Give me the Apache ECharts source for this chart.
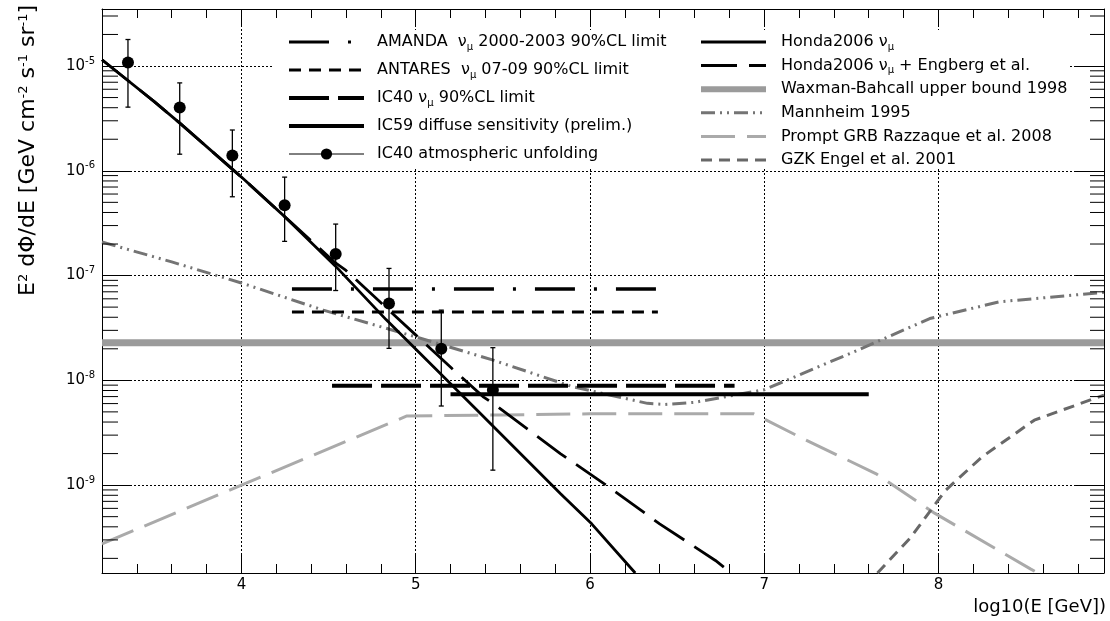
<!DOCTYPE html>
<html><head><meta charset="utf-8">
<script src="https://cdn.jsdelivr.net/npm/echarts@6/dist/echarts.min.js"></script>
<style>html,body{margin:0;padding:0;background:#fff;}#c{width:1110px;height:621px;}</style>
</head><body><div id="c"></div>
<script>
// ---------- axis ranges / ticks ----------
const X_MIN = 3.2, X_MAX = 8.95;
const Y_MIN = 1.45e-10, Y_MAX = 3.5e-5;
const yDecades = [-10, -9, -8, -7, -6, -5, -4];
const yMinorMultipliers = [2, 3, 4, 5, 6, 7, 8, 9];
const X_TITLE = 'log10(E [GeV])';
const Y_TITLE = 'E{s|2} dΦ/dE [GeV cm{s|-2} s{s|-1} sr{s|-1}]';

// ---------- data (x = log10(E/GeV), y = E^2 dPhi/dE) ----------
const hondaX = [3.2, 3.5, 3.65, 4.0, 4.25, 4.54, 4.83, 5.35, 5.83, 6.01, 6.26];
const hondaY = [1.148e-5, 4.57e-6, 2.82e-6, 8.71e-7, 3.63e-7, 1.23e-7, 3.80e-8, 5.25e-9, 8.32e-10, 4.27e-10, 1.45e-10];

const engbergX = [3.2, 3.5, 3.65, 4.0, 4.25, 4.54, 4.60, 5.21, 5.39, 5.47, 5.83, 6.11, 6.40, 6.72, 6.81];
const engbergY = [1.148e-5, 4.57e-6, 2.82e-6, 8.71e-7, 3.63e-7, 1.32e-7, 1.12e-7, 1.29e-8, 6.92e-9, 5.62e-9, 2.0e-9, 9.55e-10, 4.27e-10, 1.91e-10, 1.45e-10];

const amandaX = [4.29, 6.39];   const amandaY = [7.43e-8, 7.43e-8];
const antaresX = [4.29, 6.39];  const antaresY = [4.49e-8, 4.49e-8];
const ic40LimX = [4.52, 6.83];  const ic40LimY = [8.9e-9, 8.9e-9];
const ic59X = [5.2, 7.6];       const ic59Y = [7.35e-9, 7.35e-9];
const wbX = [3.2, 8.95];        const wbY = [2.29e-8, 2.29e-8];

const mannheimX = [3.2, 3.6, 4.0, 4.47, 4.99, 5.45, 5.9, 6.33, 6.43, 6.6, 6.8, 7.0, 7.14, 7.54, 7.95, 8.35, 8.95];
const mannheimY = [2.09e-7, 1.35e-7, 8.5e-8, 4.68e-8, 2.63e-8, 1.55e-8, 8.7e-9, 6.03e-9, 5.89e-9, 6.17e-9, 7.08e-9, 8.13e-9, 1.02e-8, 1.95e-8, 3.89e-8, 5.62e-8, 6.92e-8];

const grbX = [3.2, 4.0, 4.95, 5.5, 6.0, 6.94, 7.24, 7.64, 7.98, 8.53, 8.57];
const grbY = [2.75e-10, 1.0e-9, 4.57e-9, 4.68e-9, 4.79e-9, 4.79e-9, 2.69e-9, 1.29e-9, 5.37e-10, 1.58e-10, 1.45e-10];

const gzkX = [7.65, 7.84, 8.04, 8.25, 8.55, 8.95];
const gzkY = [1.45e-10, 3.16e-10, 8.9e-10, 1.86e-9, 4.17e-9, 7.24e-9];

const unfoldX  = [3.349, 3.646, 3.948, 4.248, 4.541, 4.847, 5.147, 5.443];
const unfoldY  = [1.08e-5, 4.01e-6, 1.40e-6, 4.68e-7, 1.61e-7, 5.41e-8, 2.00e-8, 8.1e-9];
const unfoldLo = [4.05e-6, 1.44e-6, 5.65e-7, 2.12e-7, 7.2e-8, 2.02e-8, 5.69e-9, 1.39e-9];
const unfoldHi = [1.79e-5, 6.9e-6, 2.45e-6, 8.7e-7, 3.10e-7, 1.17e-7, 4.68e-8, 2.05e-8];

// ---------- names ----------
const N_AMANDA = 'AMANDA  νμ 2000-2003 90%CL limit';
const N_ANTARES = 'ANTARES  νμ 07-09 90%CL limit';
const N_IC40L = 'IC40 νμ 90%CL limit';
const N_IC59 = 'IC59 diffuse sensitivity (prelim.)';
const N_UNF = 'IC40 atmospheric unfolding';
const N_HONDA = 'Honda2006 νμ';
const N_ENG = 'Honda2006 νμ + Engberg et al.';
const N_WB = 'Waxman-Bahcall upper bound 1998';
const N_MAN = 'Mannheim 1995';
const N_GRB = 'Prompt GRB Razzaque et al. 2008';
const N_GZK = 'GZK Engel et al. 2001';

const FONT = 'DejaVu Sans';
const zip = (xs, ys) => xs.map((x, i) => [x, ys[i]]);

function lineSeries(name, xs, ys, color, width, type, z) {
  return {
    name, type: 'line', data: zip(xs, ys), symbol: 'none', z: z || 3,
    lineStyle: { color, width, type, cap: 'butt' }, itemStyle: { color },
    emphasis: { disabled: true }, silent: true
  };
}

const minorTickData = [];
yDecades.forEach(d => yMinorMultipliers.forEach(m => {
  const v = m * Math.pow(10, d);
  if (v > Y_MIN && v < Y_MAX) minorTickData.push([X_MIN, v]);
}));

const subFmt = name => name.replace('νμ', 'ν{sub|μ}');
const legendText = (padLeft) => ({
  fontFamily: FONT, fontSize: 16, color: '#000', lineHeight: 20, padding: [0, 0, 0, padLeft],
  rich: { sub: { fontFamily: FONT, fontSize: 10, lineHeight: 8, verticalAlign: 'bottom', color: '#000' } }
});
const noSym = { opacity: 0 };

const chart = echarts.init(document.getElementById('c'), null, { renderer: 'canvas' });
chart.setOption({
  animation: false,
  backgroundColor: '#fff',
  grid: { left: 102, top: 9, width: 1002, height: 564, show: false, outerBoundsMode: 'none', containLabel: false },
  graphic: [
    { type: 'rect', z: 1, shape: { x: 272, y: 30, width: 796, height: 138 }, style: { fill: '#fff' }, silent: true },
    { type: 'text', z: 10, x: 28, y: 5, rotation: Math.PI / 2, silent: true,
      style: { text: Y_TITLE, fill: '#000', font: '22px "DejaVu Sans"', align: 'right', verticalAlign: 'middle',
        rich: { s: { fontFamily: FONT, fontSize: 13, lineHeight: 13, verticalAlign: 'top', fill: '#000' } } } }
  ],
  xAxis: [
    {
      type: 'value', min: X_MIN, max: X_MAX, position: 'bottom',
      name: X_TITLE, nameLocation: 'end', nameGap: 2,
      nameTextStyle: { fontFamily: FONT, fontSize: 18, color: '#000', align: 'right', verticalAlign: 'top', padding: [25, 0, 0, 0] },
      axisLine: { show: true, onZero: false, lineStyle: { color: '#000', width: 1 } },
      axisTick: { show: true, inside: true, length: 18, lineStyle: { color: '#000', width: 1 } },
      minorTick: { show: true, splitNumber: 5, length: 9, lineStyle: { color: '#000', width: 1 } },
      axisLabel: { fontFamily: FONT, fontSize: 15, color: '#000', margin: 5,
        formatter: v => Math.abs(v - Math.round(v)) < 1e-6 ? String(Math.round(v)) : '' },
      splitLine: { show: true, lineStyle: { color: '#000', width: 1, type: [2, 2] } }
    },
    {
      type: 'value', min: X_MIN, max: X_MAX, position: 'top',
      axisLine: { show: true, onZero: false, lineStyle: { color: '#000', width: 1 } },
      axisTick: { show: true, inside: true, length: 18, lineStyle: { color: '#000', width: 1 } },
      minorTick: { show: true, splitNumber: 5, length: 9, lineStyle: { color: '#000', width: 1 } },
      axisLabel: { show: false }, splitLine: { show: false }
    }
  ],
  yAxis: [
    {
      type: 'log', logBase: 10, min: Y_MIN, max: Y_MAX, position: 'left',
      axisLine: { show: true, onZero: false, lineStyle: { color: '#000', width: 1 } },
      axisTick: { show: true, inside: true, length: 29, lineStyle: { color: '#000', width: 1 } },
      minorTick: { show: false },
      axisLabel: {
        fontFamily: FONT, fontSize: 15, color: '#000', margin: 7,
        formatter: v => {
          const e = Math.log10(v);
          if (Math.abs(e - Math.round(e)) > 1e-3) return '';
          return '{b|10}{s|' + Math.round(e) + '}';
        },
        rich: {
          b: { fontFamily: FONT, fontSize: 15, lineHeight: 20, color: '#000' },
          s: { fontFamily: FONT, fontSize: 10, lineHeight: 10, verticalAlign: 'top', color: '#000' }
        }
      },
      splitLine: { show: true, lineStyle: { color: '#000', width: 1, type: [2, 2] } }
    },
    {
      type: 'log', logBase: 10, min: Y_MIN, max: Y_MAX, position: 'right',
      axisLine: { show: true, onZero: false, lineStyle: { color: '#000', width: 1 } },
      axisTick: { show: true, inside: true, length: 29, lineStyle: { color: '#000', width: 1 } },
      axisLabel: { show: false }, splitLine: { show: false }
    }
  ],
  legend: [
    {
      orient: 'vertical', left: 287, top: 32, padding: 0, itemWidth: 75, itemHeight: 14, itemGap: 8,
      selectedMode: false, formatter: subFmt, textStyle: legendText(8),
      data: [
        { name: N_AMANDA, lineStyle: { width: 3 }, itemStyle: noSym },
        { name: N_ANTARES, lineStyle: { width: 3 }, itemStyle: noSym },
        { name: N_IC40L, lineStyle: { width: 4 }, itemStyle: noSym },
        { name: N_IC59, lineStyle: { width: 4 }, itemStyle: noSym },
        { name: N_UNF, lineStyle: { width: 1, opacity: 1, color: '#000' } }
      ]
    },
    {
      orient: 'vertical', left: 698, top: 32, padding: 0, itemWidth: 65, itemHeight: 14, itemGap: 3.6,
      selectedMode: false, formatter: subFmt, textStyle: legendText(10),
      data: [
        { name: N_HONDA, lineStyle: { width: 3 }, itemStyle: noSym },
        { name: N_ENG, lineStyle: { width: 3 }, itemStyle: noSym },
        { name: N_WB, lineStyle: { width: 6 }, itemStyle: noSym },
        { name: N_MAN, lineStyle: { width: 3 }, itemStyle: noSym },
        { name: N_GRB, lineStyle: { width: 3 }, itemStyle: noSym },
        { name: N_GZK, lineStyle: { width: 3 }, itemStyle: noSym }
      ]
    }
  ],
  series: [
    {
      type: 'custom', silent: true, z: 5, data: minorTickData, encode: { x: 0, y: 1 },
      renderItem: (params, api) => {
        const v = api.value(1);
        const pL = api.coord([X_MIN, v]);
        const pR = api.coord([X_MAX, v]);
        return { type: 'group', children: [
          { type: 'line', shape: { x1: pL[0], y1: pL[1], x2: pL[0] + 16, y2: pL[1] }, style: { stroke: '#000', lineWidth: 1 } },
          { type: 'line', shape: { x1: pR[0] - 14, y1: pR[1], x2: pR[0], y2: pR[1] }, style: { stroke: '#000', lineWidth: 1 } }
        ] };
      }
    },
    lineSeries(N_WB, wbX, wbY, '#9b9b9b', 7, 'solid', 2),
    lineSeries(N_GRB, grbX, grbY, '#aaaaaa', 3, [34, 12], 2),
    lineSeries(N_GZK, gzkX, gzkY, '#686868', 3, [11, 7], 2),
    lineSeries(N_MAN, mannheimX, mannheimY, '#747474', 3, [14, 5, 2, 5, 2, 5], 2),
    lineSeries(N_AMANDA, amandaX, amandaY, '#000', 3.5, [40, 19, 3, 19], 3),
    lineSeries(N_ANTARES, antaresX, antaresY, '#000', 3, [12, 8], 3),
    lineSeries(N_IC40L, ic40LimX, ic40LimY, '#000', 4, [40, 9], 3),
    lineSeries(N_IC59, ic59X, ic59Y, '#000', 4, 'solid', 3),
    lineSeries(N_HONDA, hondaX, hondaY, '#000', 2.8, 'solid', 3),
    lineSeries(N_ENG, engbergX, engbergY, '#000', 2.8, [36, 12], 3),
    {
      type: 'custom', silent: true, z: 4,
      data: unfoldX.map((x, i) => [x, unfoldLo[i], unfoldHi[i]]),
      encode: { x: 0, y: [1, 2] },
      renderItem: (params, api) => {
        const x = api.value(0);
        const lo = api.coord([x, api.value(1)]);
        const hi = api.coord([x, api.value(2)]);
        const c = 2.5;
        return { type: 'group', children: [
          { type: 'line', shape: { x1: lo[0], y1: lo[1], x2: hi[0], y2: hi[1] }, style: { stroke: '#000', lineWidth: 1.3 } },
          { type: 'line', shape: { x1: lo[0] - c, y1: lo[1], x2: lo[0] + c, y2: lo[1] }, style: { stroke: '#000', lineWidth: 1.3 } },
          { type: 'line', shape: { x1: hi[0] - c, y1: hi[1], x2: hi[0] + c, y2: hi[1] }, style: { stroke: '#000', lineWidth: 1.3 } }
        ] };
      }
    },
    {
      name: N_UNF, type: 'line', z: 6, data: zip(unfoldX, unfoldY),
      symbol: 'circle', symbolSize: 12, showSymbol: true,
      itemStyle: { color: '#000' }, lineStyle: { color: '#000', width: 1, opacity: 0 },
      emphasis: { disabled: true }, silent: true
    }
  ]
});
</script></body></html>
